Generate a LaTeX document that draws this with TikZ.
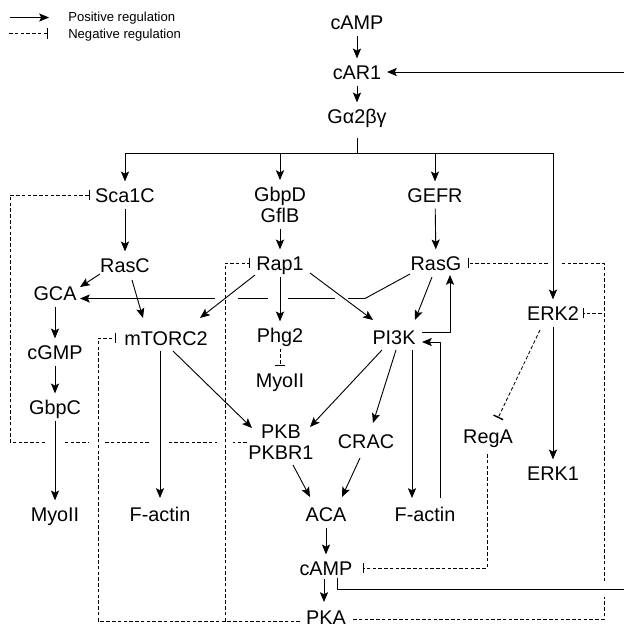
\documentclass[tikz,border=0pt]{standalone}
\usepackage{fontspec}
\setmainfont{Liberation Sans}[Ligatures=NoCommon]
\usetikzlibrary{arrows.meta,calc}
\begin{document}
\begin{tikzpicture}[x=0.025cm,y=-0.025cm,line join=round,
	>={Stealth[length=7pt,width=5.8pt,inset=1.5pt]},
	mol/.style={font=\fontsize{14.1}{15}\selectfont,inner xsep=2pt,inner ysep=4.5pt,text height=10pt,text depth=0pt},
	mol2/.style={font=\fontsize{14.1}{15}\selectfont,inner xsep=2pt,inner ysep=4.5pt,align=center},
	key/.style={font=\fontsize{9.3}{10}\selectfont,inner sep=0pt,anchor=west,text height=6.7pt,text depth=0pt},
	act/.style={->,line width=0.65pt},
	inh/.style={-{Bar[width=7.5pt,line width=1pt]},line width=0.6pt,dash pattern=on 2.5pt off 1.6pt},
	blank/.style={fill=white}]
	\useasboundingbox (0,0) rectangle (624,627);
	%legend
	\coordinate (k1) at (10,17.5); \coordinate (k2) at (49,17.5);
	\coordinate (k3) at (9,33.3); \coordinate (k4) at (48,33.3);
	\draw[->,line width=0.6pt] (k1)--(k2);
	\draw[inh] (k3)--(k4);
	\node[key] (kpos) at (68,16.7) {Positive regulation};
	\node[key] (kneg) at (68,33.3) {Negative regulation};
	%molecules
	\foreach \nm/\lab/\x/\y in {cAMPt/cAMP/357/22,cAR1/cAR1/357/72,Ga/Gα2βγ/357/116,
		Sca1C/Sca1C/125/195,GEFR/GEFR/435/195,RasC/RasC/125/265,Rap1/Rap1/280/263,
		RasG/RasG/436/263,GCA/GCA/55/293,ERK2/ERK2/553/313,mTORC2/mTORC2/166/338,
		Phg2/Phg2/280/335,PI3K/PI3K/394/337,cGMP/cGMP/55/352,MyoIIm/MyoII/280/380,
		GbpC/GbpC/55/407,CRAC/CRAC/366/441,RegA/RegA/488/436,ERK1/ERK1/553/473,
		MyoIIl/MyoII/55/514,FactinL/F-actin/160/514,ACA/ACA/326/514,
		FactinR/F-actin/425/514,cAMPb/cAMP/326/568,PKA/PKA/326/617}
	\node[mol] (\nm) at (\x,\y) {\lab};
	\node[mol2] (Gbp) at (280,204.5) {GbpD\\GflB};
	\node[mol2] (PKB) at (281,442) {PKB\\PKBR1};
	%lines that get cut
	\coordinate (kink) at (365,298.5);
	\draw[act] ($(RasG)+(-26,11)$) -- (kink) -- ($(GCA)+(25,5.5)$);
	\draw[inh] ($(PKB)+(-34,0)$) -| ($(Sca1C)+(-115,0)$) -- ($(Sca1C)+(-35,0)$);
	\draw[inh] ($(PKA)+(27,2)$) -| ($(RasG)+(168,0)$) -- ($(RasG)+(32,0)$);
	\draw[inh] ($(PKA)+(27,2)$) -| ($(ERK2)+(51,0)$) -- ($(ERK2)+(30,0)$);
	\foreach \a/\b in {215/238,268/288,335/348}
	\fill[blank] (\a,294) rectangle (\b,303);
	\foreach \a/\b in {47/63,89/105,149/166,217/233}
	\fill[blank] (\a,438) rectangle (\b,446);
	\fill[blank] (600,581) rectangle (608,597);
	\fill[blank] (548,259) rectangle (560,267);
	%activation
	\coordinate (busL) at (125,153); \coordinate (busR) at (553,153);
	\coordinate (fbR) at (630,589);
	\draw[act] (cAMPt) -- (cAR1);
	\draw[act] (cAR1) -- (Ga);
	\draw[line width=0.65pt] ($(Ga)+(0,22)$) -- (Ga |- busL);
	\draw[line width=0.65pt] (busL) -- (busR);
	\draw[act] (busL) -- (Sca1C);
	\draw[act] (Gbp |- busL) -- (Gbp);
	\draw[act] (GEFR |- busL) -- (GEFR);
	\draw[act] (busR) -- (ERK2);
	\draw[act] (ERK2) -- (ERK1);
	\draw[act] (Sca1C) -- (RasC);
	\draw[act] (Gbp) -- (Rap1);
	\draw[act] (GEFR) -- (RasG);
	\draw[act] ($(RasC)+(-25,9)$) -- ($(GCA)+(25,-6)$);
	\draw[act] ($(RasC)+(7,15)$) -- ($(mTORC2)+(-23,-20)$);
	\draw[act] ($(Rap1)+(-25,12)$) -- ($(mTORC2)+(34,-20)$);
	\draw[act] (Rap1) -- (Phg2);
	\draw[act] ($(Rap1)+(30,10)$) -- ($(PI3K)+(-21,-17)$);
	\draw[act] ($(RasG)+(-4,14)$) -- ($(PI3K)+(21,-17)$);
	\draw[act] ($(PI3K)+(28,-5)$) -| ($(RasG)+(14,12)$);
	\draw[act] ($(FactinR)+(15,-16)$) |- ($(PI3K)+(28,5)$);
	\draw[act] ($(PI3K)+(18,13)$) -- ($(FactinR)+(-13,-16)$);
	\draw[act] ($(PI3K)+(-12,13)$) -- ($(PKB)+(29,-15)$);
	\draw[act] ($(PI3K)+(2,13)$) -- ($(CRAC)+(7,-18)$);
	\draw[act] ($(mTORC2)+(-6,13)$) -- ($(FactinL)+(0,-16)$);
	\draw[act] ($(mTORC2)+(7,13)$) -- ($(PKB)+(-29,-14)$);
	\draw[act] (GCA) -- (cGMP);
	\draw[act] (cGMP) -- (GbpC);
	\draw[act] (GbpC) -- (MyoIIl);
	\draw[act] ($(PKB)+(12,23)$) -- ($(ACA)+(-16,-17)$);
	\draw[act] ($(CRAC)+(-6,17)$) -- ($(ACA)+(16,-17)$);
	\draw[act] (ACA) -- (cAMPb);
	\draw[act] ($(cAMPb)+(-2,11)$) -- ($(PKA)+(-2,-15)$);
	\draw[act] ($(cAMPb)+(11,10)$) |- (fbR) |- ($(cAR1)+(30,0)$);
	%inhibition
	\draw[inh] ($(PKA)+(-26,4)$) -| ($(mTORC2)+(-68,0)$) -- ($(mTORC2)+(-50,0)$);
	\draw[inh] ($(PKA)+(-26,4)$) -| ($(Rap1)+(-55,0)$) -- ($(Rap1)+(-30,0)$);
	\draw[inh] ($(ERK2)+(-13,17)$) -- ($(RegA)+(10,-18)$);
	\draw[inh] ($(RegA)+(-1,18)$) |- ($(cAMPb)+(37,0)$);
	\draw[inh] (Phg2) -- (MyoIIm);
\end{tikzpicture}
\end{document}
